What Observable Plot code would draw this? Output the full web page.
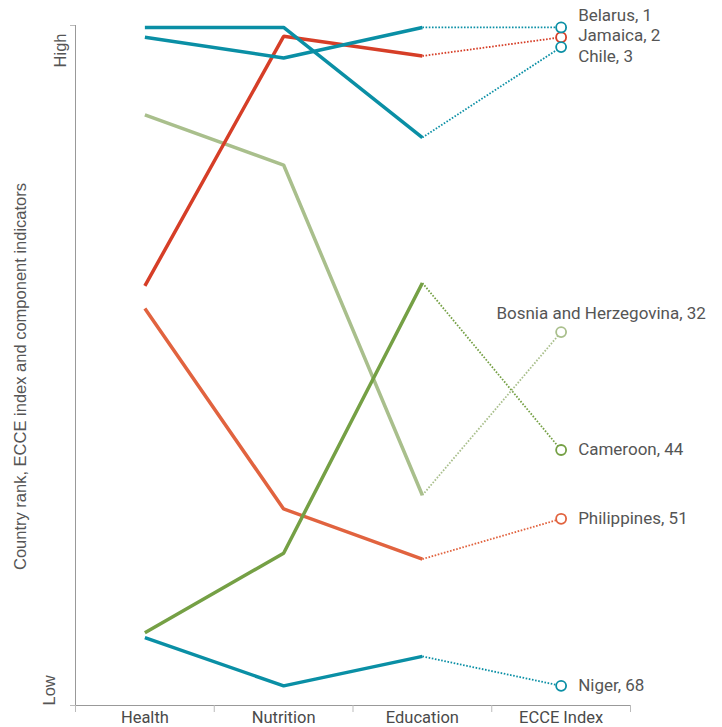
<!DOCTYPE html>
<html><head><meta charset="utf-8">
<script src="https://cdn.jsdelivr.net/npm/d3@7"></script>
<script src="https://cdn.jsdelivr.net/npm/@observablehq/plot@0.6"></script>
<style>html,body{margin:0;background:#fff} svg{display:block}</style>
</head><body><div id="chart"></div>
<script>
const categories = ["Health", "Nutrition", "Education", "ECCE Index"];
const countries = ["Bosnia and Herzegovina", "Philippines", "Cameroon", "Jamaica", "Niger", "Chile", "Belarus"];
const healthRank    = [9.9, 29.6, 62.6, 27.3, 63.1, 1, 2];
const nutritionRank = [15, 50, 54.5, 1.9, 68, 1, 4.1];
const educationRank = [48.6, 55.1, 27, 3.9, 65, 12.2, 1];
const ecceRank      = [32, 51, 44, 2, 68, 3, 1];
const countryColors = ["#a9bf8c", "#e1633f", "#75a045", "#d63e27", "#0a8fa5", "#0a8fa5", "#0a8fa5"];
const yAxisTitle = "Country rank, ECCE index and component indicators";

const series = [healthRank, nutritionRank, educationRank, ecceRank];
const rows = countries.flatMap((c, j) => series.map((s, i) => ({country: c, pos: i + 0.5, rank: s[j]})));
const solid = rows.filter(d => d.pos < 3);
const dotted = rows.filter(d => d.pos > 2);
const ecce = rows.filter(d => d.pos > 3).map(d => ({...d, label: `${d.country}, ${d.rank}`}));

const nudge = {
  "Belarus": {dx: 17, dy: -12, textAnchor: "start"},
  "Jamaica": {dx: 17, dy: -2, textAnchor: "start"},
  "Chile": {dx: 17, dy: 9, textAnchor: "start"},
  "Bosnia and Herzegovina": {dx: 40, dy: -19, textAnchor: "middle"}
};
const defaultNudge = {dx: 17, dy: 0, textAnchor: "start"};

const labelMarks = ecce.map(d => Plot.text([d], {
  x: "pos", y: "rank", text: "label",
  ...(nudge[d.country] || defaultNudge),
  fontSize: 17, fill: "#555", fontFamily: "Roboto"
}));

const chart = Plot.plot({
  width: 722, height: 727,
  marginLeft: 75, marginRight: 92, marginTop: 25, marginBottom: 22,
  style: {fontFamily: "Roboto", background: "#fff", overflow: "visible"},
  x: {type: "linear", domain: [0, 4], axis: null, label: null},
  y: {domain: [0.8, 70], reverse: true, axis: null, label: null},
  color: {domain: countries, range: countryColors},
  marks: [
    Plot.ruleX([0], {stroke: "#999", strokeWidth: 1}),
    Plot.ruleY([70], {stroke: "#999", strokeWidth: 1}),
    Plot.axisY({ticks: [0.8, 70], tickSize: 5, tickFormat: () => "", stroke: "#bbb", label: null}),
    Plot.axisX({ticks: [0, 1, 2, 3, 4], tickSize: 7, tickFormat: () => "", stroke: "#bbb", label: null}),
    Plot.axisX({ticks: categories.map((c, i) => i + 0.5), tickSize: 0, tickPadding: 6, label: null,
      tickFormat: d => categories[Math.floor(d)], fontSize: 16.5, fill: "#4a4a4a", fontFamily: "Roboto"}),
    Plot.text(["High"], {frameAnchor: "top-left", rotate: -90, textAnchor: "end", dx: -21, dy: 8,
      fontSize: 16.5, fill: "#555", fontFamily: "Liberation Sans"}),
    Plot.text(["Low"], {frameAnchor: "bottom-left", rotate: -90, textAnchor: "start", dx: -21, dy: 0,
      fontSize: 16.5, fill: "#555", fontFamily: "Liberation Sans"}),
    Plot.text([yAxisTitle], {frameAnchor: "left", rotate: -90, textAnchor: "middle", dx: -55, dy: 11,
      fontSize: 16.5, fill: "#555", fontFamily: "Liberation Sans"}),
    Plot.line(dotted, {x: "pos", y: "rank", z: "country", stroke: "country",
      strokeWidth: 1.8, strokeDasharray: "1.6,1.6", strokeLinecap: "butt"}),
    Plot.line(solid, {x: "pos", y: "rank", z: "country", stroke: "country",
      strokeWidth: 3.5, strokeLinecap: "butt", strokeLinejoin: "miter"}),
    Plot.dot(ecce, {x: "pos", y: "rank", r: 5, stroke: "country", fill: "#fff", strokeWidth: 1.8}),
    ...labelMarks
  ]
});
document.getElementById("chart").append(chart);
</script>
</body></html>
